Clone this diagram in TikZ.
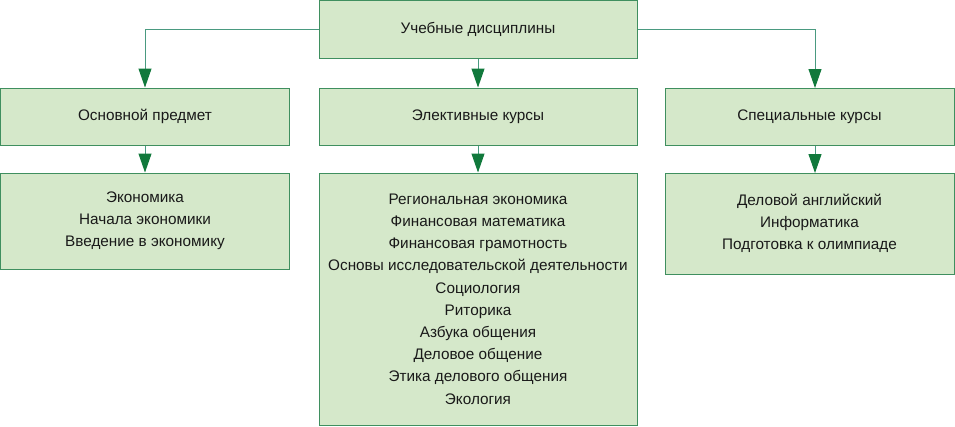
\documentclass[tikz,border=0pt]{standalone}
\usepackage{fontspec}
\setmainfont{Liberation Sans}
\usetikzlibrary{arrows.meta}
\definecolor{boxfill}{HTML}{D5E8CA}
\definecolor{boxline}{HTML}{3F8F5F}
\definecolor{linecol}{HTML}{4A9A80}
\definecolor{tipcol}{HTML}{11793C}
\begin{document}
\begin{tikzpicture}[x=1pt,y=-1pt,
  box/.style={draw=boxline,fill=boxfill,line width=1pt,inner sep=0pt,
    align=center,font=\fontsize{15.3}{22.2}\selectfont,text=black!90},
  conn/.style={draw=linecol,line width=1pt,
    -{Triangle[length=19pt,width=13pt,color=tipcol]}}]
\useasboundingbox (0,0) rectangle (955,426);
\node[box,minimum width=318pt,minimum height=58pt] (top) at (478,29) {Учебные дисциплины};
\node[box,minimum width=289pt,minimum height=57pt] (osn) at (145,116.5) {Основной предмет};
\node[box,minimum width=318pt,minimum height=57pt] (el) at (478,116.5) {Элективные курсы};
\node[box,minimum width=289pt,minimum height=57pt] (sp) at (809.5,116.5) {Специальные курсы};
\node[box,minimum width=289pt,minimum height=96pt] (osnl) at (145,221) {Экономика\\Начала экономики\\Введение в экономику};
\node[box,minimum width=318pt,minimum height=252pt] (ell) at (478,299) {Региональная экономика\\Финансовая математика\\Финансовая грамотность\\Основы исследовательской деятельности\\Социология\\Риторика\\Азбука общения\\Деловое общение\\Этика делового общения\\Экология};
\node[box,minimum width=289pt,minimum height=101pt] (spl) at (809.5,223.5) {Деловой английский\\Информатика\\Подготовка к олимпиаде};
\coordinate (spin) at (815,88);
\coordinate (spin2) at (815,173);
\draw[conn] (top.west) -| (osn.north);
\draw[conn] (top.south) -- (el.north);
\draw[conn] (top.east) -| (spin);
\draw[conn] (osn.south) -- (osnl.north);
\draw[conn] (el.south) -- (ell.north);
\draw[conn] (sp.south -| spin) -- (spin2);
\end{tikzpicture}
\end{document}
